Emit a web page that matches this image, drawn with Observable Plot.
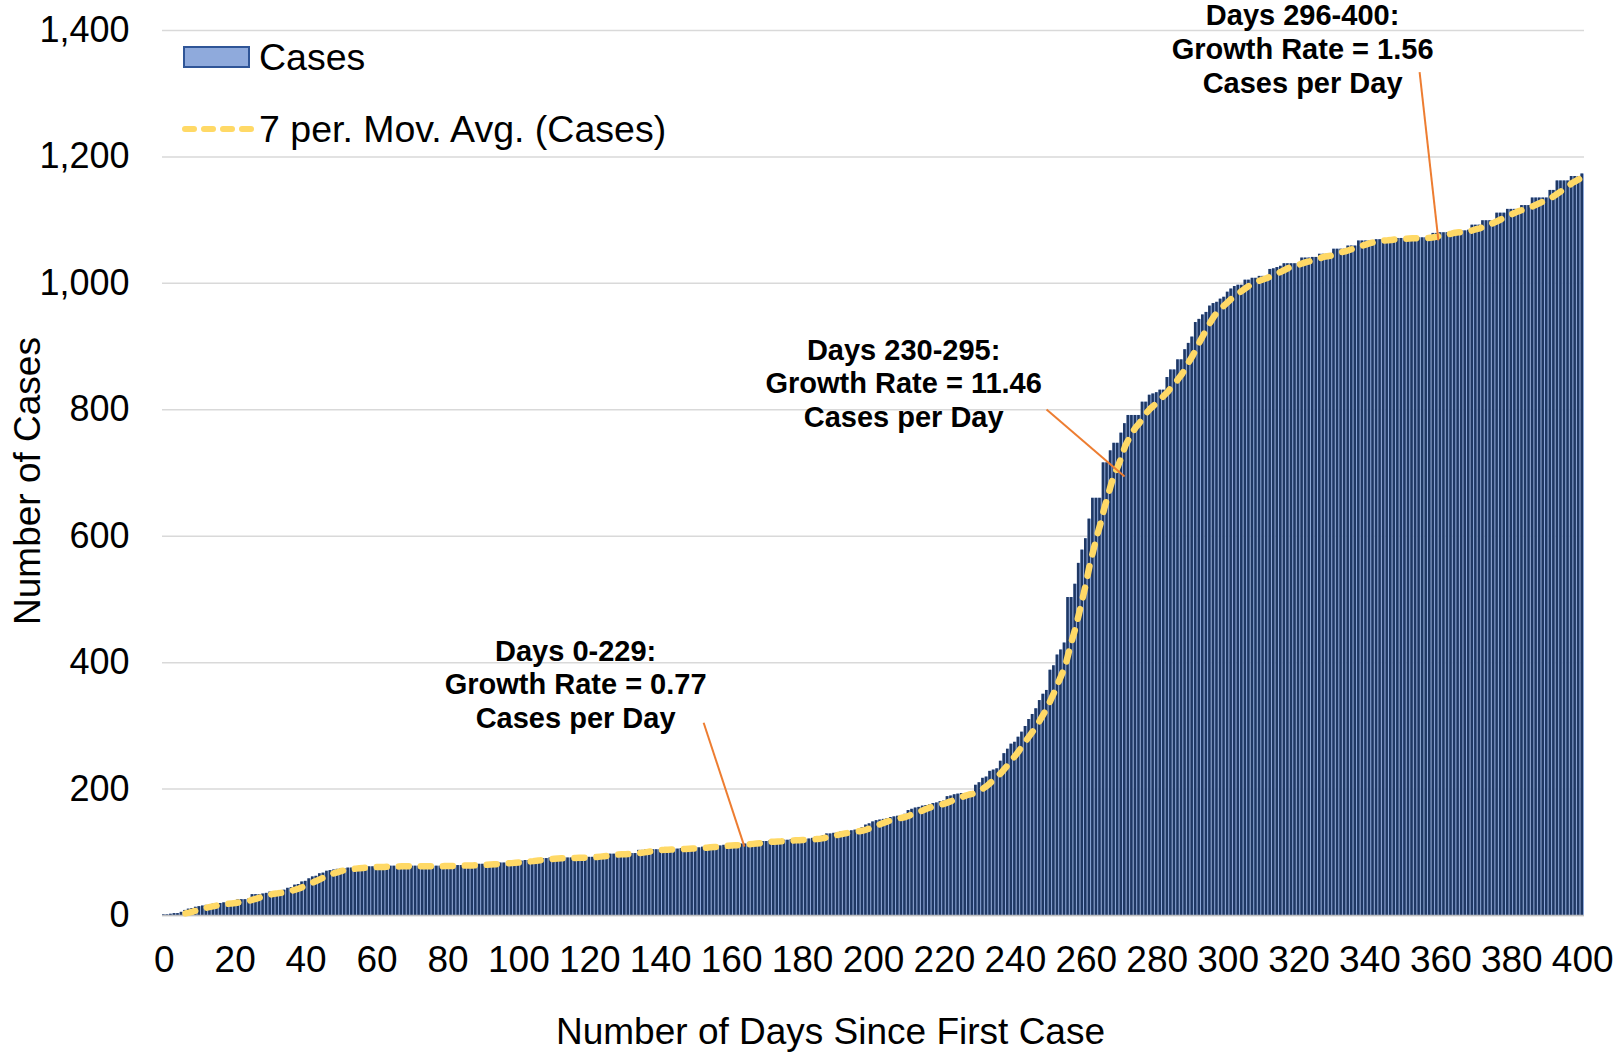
<!DOCTYPE html>
<html>
<head>
<meta charset="utf-8">
<script src="https://cdn.jsdelivr.net/npm/d3@7"></script>
<script src="https://cdn.jsdelivr.net/npm/@observablehq/plot@0.6"></script>
<style>
  html, body { margin: 0; padding: 0; background: #fff; }
  #wrap { position: relative; width: 1621px; height: 1052px; font-family: "Liberation Sans", Arial, sans-serif; }
  #legend { position: absolute; left: 0; top: 0; pointer-events: none; }
  .lg-row { position: absolute; display: flex; align-items: center; font-size: 37.5px; color: #000; white-space: nowrap; }
</style>
</head>
<body>
<div id="wrap"></div>
<script>
// ---- data ----
const cases = [
  1,1,2,3,3,5,8,10,11,13,
  14,15,16,17,18,19,19,20,20,21,
  21,25,25,25,26,33,33,33,34,35,
  37,37,37,38,40,43,44,48,49,53,
  54,58,61,62,66,67,70,71,72,73,
  74,74,75,75,76,76,76,77,77,77,
  77,77,77,78,78,78,78,78,78,78,
  78,78,78,78,78,78,78,78,78,79,
  79,79,79,79,79,79,80,80,80,81,
  81,81,82,82,82,83,83,84,84,85,
  85,86,87,87,88,89,89,90,90,91,
  91,91,91,91,91,91,92,92,92,92,
  92,92,96,96,96,96,97,97,97,98,
  98,98,98,98,103,103,104,104,104,104,
  104,104,105,105,105,105,106,106,107,107,
  107,107,108,109,110,110,110,110,111,112,
  112,112,112,113,113,115,116,116,116,117,
  117,118,118,118,118,119,119,120,120,120,
  120,120,121,122,124,124,126,129,129,130,
  131,132,132,133,134,135,136,139,143,145,
  148,150,151,152,153,155,156,157,158,160,
  166,168,170,171,173,174,175,177,178,180,
  181,188,189,191,192,193,193,194,196,206,
  210,217,219,228,230,232,244,256,263,271,
  274,282,290,299,310,318,327,340,350,356,
  388,395,412,420,431,503,503,524,557,578,
  596,627,660,660,660,716,716,735,747,747,
  763,778,791,791,791,791,812,812,823,825,
  827,831,831,851,863,863,879,879,895,905,
  915,938,943,950,954,964,968,970,975,978,
  986,991,995,997,997,1005,1005,1008,1008,1011,
  1011,1011,1022,1023,1025,1027,1031,1031,1031,1031,
  1031,1040,1040,1040,1041,1041,1046,1046,1046,1046,
  1054,1054,1054,1054,1059,1059,1059,1067,1067,1067,
  1067,1067,1069,1069,1069,1069,1071,1071,1071,1071,
  1071,1072,1072,1072,1072,1072,1072,1072,1079,1079,
  1080,1080,1080,1080,1083,1083,1083,1083,1084,1092,
  1092,1092,1099,1099,1099,1099,1111,1111,1111,1117,
  1117,1117,1117,1123,1123,1123,1135,1135,1135,1135,
  1135,1147,1147,1162,1162,1162,1162,1169,1169,1169,
  1173
];
const days = cases.map((_, i) => i);

const xTicks = [0,20,40,60,80,100,120,140,160,180,200,220,240,260,280,300,320,340,360,380,400];
const yTicks = [0,200,400,600,800,1000,1200,1400];

const annText = [
  "Days 0-229:\nGrowth Rate = 0.77\nCases per Day",
  "Days 230-295:\nGrowth Rate = 11.46\nCases per Day",
  "Days 296-400:\nGrowth Rate = 1.56\nCases per Day"
];
const annDay = [116, 208.5, 321];
const annValue = [367, 843, 1372];
const leadDay1 = [152.1, 248.8, 354.0];
const leadVal1 = [305, 800.6, 1334];
const leadDay2 = [163.6, 270.8, 359.3];
const leadVal2 = [109, 694.6, 1068];

const seriesName = "Cases";
const maName = "7 per. Mov. Avg. (Cases)";
const xLabel = "Number of Days Since First Case";
const yLabel = "Number of Cases";

// ---- build tables ----
const table = days.map((d, i) => ({day: d, cases: cases[i]}));
const anns = annText.map((t, i) => ({text: t, day: annDay[i], value: annValue[i]}));
const leads = leadDay1.map((d, i) => ({d1: d, v1: leadVal1[i], d2: leadDay2[i], v2: leadVal2[i]}));

const NAVY = "#1F3864";
const STRIPE = "#8FAADC";
const GOLD = "#FFD966";
const ORANGE = "#ED7D31";
const FONT = "Liberation Sans, Arial, sans-serif";

const chart = Plot.plot({
  width: 1621,
  height: 1052,
  marginLeft: 162,
  marginRight: 37,
  marginTop: 30,
  marginBottom: 137,
  style: {fontFamily: FONT, background: "#fff", overflow: "visible"},
  x: {domain: [-0.5, 400.5], axis: null},
  y: {domain: [0, 1400], axis: null},
  marks: [
    Plot.gridY(yTicks, {stroke: "#D9D9D9", strokeOpacity: 1, strokeWidth: 1.5}),
    Plot.rectY(table, {x1: d => d.day - 0.5, x2: d => d.day + 0.5, y: "cases", fill: STRIPE}),
    Plot.rectY(table, {x1: d => d.day - 0.5, x2: d => d.day + 0.5, y: "cases", fill: NAVY, insetRight: 1}),
    Plot.ruleY([0], {stroke: "#BFBFBF", strokeWidth: 1.5}),
    Plot.lineY(table, Plot.windowY({k: 7, anchor: "end", reduce: "mean", strict: true},
      {x: "day", y: "cases", stroke: GOLD, strokeWidth: 6.5, strokeDasharray: "10 12", strokeLinecap: "round"})),
    Plot.axisX(xTicks, {tickSize: 0, tickPadding: 30, fontSize: 37, fill: "#000", tickFormat: d => String(d), label: null}),
    Plot.axisY(yTicks, {tickSize: 0, tickPadding: 33, fontSize: 36, fill: "#000", tickFormat: d3.format(","), label: null}),
    Plot.link(leads, {x1: "d1", y1: "v1", x2: "d2", y2: "v2", stroke: ORANGE, strokeWidth: 2}),
    Plot.text(anns, {x: "day", y: "value", text: "text", fontSize: 29, fontWeight: "bold", fill: "#000", lineHeight: 1.16, lineAnchor: "middle", textAnchor: "middle"}),
    Plot.text([xLabel], {frameAnchor: "bottom", dx: -43, dy: 117, fontSize: 37, fill: "#000", lineAnchor: "middle", textAnchor: "middle"}),
    Plot.text([yLabel], {frameAnchor: "left", dx: -134, dy: 8, rotate: -90, fontSize: 37, fill: "#000", lineAnchor: "middle", textAnchor: "middle"})
  ]
});

const wrap = document.getElementById("wrap");
wrap.appendChild(chart);

// legend overlay
const legend = document.createElement("div");
legend.id = "legend";
legend.innerHTML = `
  <div class="lg-row" style="left:183px; top:37px; height:40px;">
    <svg width="76" height="40"><rect x="1" y="10" width="65" height="20" fill="${STRIPE}" stroke="#2F5597" stroke-width="2"/></svg>
    <span>${seriesName}</span>
  </div>
  <div class="lg-row" style="left:180px; top:109px; height:40px;">
    <svg width="79" height="40"><line x1="5" y1="20" x2="72" y2="20" stroke="${GOLD}" stroke-width="6" stroke-dasharray="9 10" stroke-linecap="round"/></svg>
    <span>${maName}</span>
  </div>`;
wrap.appendChild(legend);
</script>
</body>
</html>
